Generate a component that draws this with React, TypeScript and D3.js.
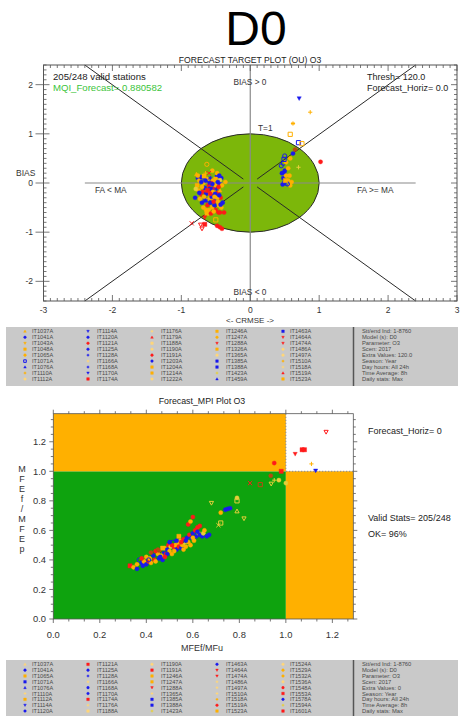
import React from 'react';
import * as d3 from 'd3';

const W = 460;
const H = 716;
const FONT = "'Liberation Sans', Arial, sans-serif";

const PAL: Record<string, string> = {
  O: '#ffb000',
  B: '#1a1aee',
  R: '#ff1a1a',
  Y: '#e6cf3a',
  L: '#ffd67a',
  D: '#b84a10',
};

type Pt = [number, number, string, string];
type Leg = [string, string, string];

// ---------- Target plot ----------
const targetTitle = 'FORECAST TARGET PLOT (OU)    O3';
const targetXTicks = [-3, -2, -1, 0, 1, 2, 3];
const targetYTicks = [-2, -1, 0, 1, 2];
const targetInfoLeft = ['205/248 valid stations', 'MQI_Forecast= 0.880582'];
const targetInfoRight = ['Thresh= 120.0', 'Forecast_Horiz= 0.0'];

const targetPoints: Pt[] = [
  [-0.78, 0.18, 'O', 'tri'], [-0.76, 0.1, 'B', 'circ'], [-0.74, 0.05, 'O', 'circ'],
  [-0.77, -0.05, 'O', 'sq'], [-0.8, -0.3, 'B', 'circ'], [-0.75, -0.15, 'O', 'circ'],
  [-0.72, -0.25, 'R', 'dtri'], [-0.7, 0.12, 'B', 'sq'], [-0.68, 0.0, 'O', 'circ'],
  [-0.66, -0.1, 'B', 'circ'], [-0.65, 0.2, 'O', 'plus'], [-0.63, 0.38, 'O', 'ocirc'],
  [-0.62, 0.08, 'O', 'circ'], [-0.6, -0.05, 'R', 'circ'], [-0.6, -0.2, 'O', 'circ'],
  [-0.58, 0.1, 'B', 'star'], [-0.57, -0.3, 'O', 'sq'], [-0.56, -0.15, 'R', 'circ'],
  [-0.55, -0.12, 'B', 'circ'], [-0.54, 0.05, 'O', 'circ'], [-0.53, -0.25, 'B', 'dtri'],
  [-0.52, -0.1, 'R', 'star'], [-0.5, -0.05, 'O', 'circ'], [-0.5, -0.35, 'B', 'circ'],
  [-0.48, 0.12, 'B', 'sq'], [-0.47, -0.2, 'R', 'circ'], [-0.46, -0.45, 'O', 'circ'],
  [-0.45, 0.0, 'B', 'circ'], [-0.44, -0.15, 'O', 'tri'], [-0.43, -0.3, 'R', 'circ'],
  [-0.42, 0.1, 'B', 'circ'], [-0.41, -0.05, 'O', 'circ'], [-0.4, -0.4, 'B', 'circ'],
  [-0.55, 0.25, 'O', 'circ'], [-0.6, 0.2, 'R', 'x'], [-0.7, -0.4, 'B', 'circ'],
  [-0.68, -0.5, 'O', 'circ'], [-0.65, -0.35, 'B', 'sq'], [-0.62, -0.45, 'R', 'circ'],
  [-0.6, -0.55, 'O', 'circ'], [-0.58, -0.4, 'B', 'circ'], [-0.55, -0.5, 'O', 'sq'],
  [-0.52, -0.45, 'B', 'circ'], [-0.5, -0.55, 'R', 'circ'], [-0.48, -0.3, 'O', 'circ'],
  [-0.46, -0.6, 'R', 'circ'], [-0.44, -0.6, 'R', 'circ'], [-0.42, -0.5, 'O', 'circ'],
  [-0.63, -0.62, 'O', 'sq'], [-0.66, -0.7, 'R', 'dtri'], [-0.5, -0.75, 'O', 'osq'],
  [-0.72, -0.85, 'R', 'odtri'], [-0.7, -0.93, 'R', 'odtri'], [-0.66, -0.84, 'R', 'sq'],
  [-0.48, -0.87, 'R', 'circ'], [-0.44, -0.9, 'R', 'circ'], [-0.41, -0.93, 'R', 'circ'],
  [-0.85, -0.82, 'R', 'x'], [-0.38, -0.6, 'R', 'circ'], [-0.36, 0.02, 'O', 'circ'],
  [-0.79, -0.12, 'Y', 'circ'], [-0.73, -0.32, 'O', 'circ'], [-0.71, 0.02, 'B', 'circ'],
  [-0.69, -0.18, 'R', 'circ'], [-0.67, 0.14, 'O', 'sq'], [-0.64, -0.22, 'B', 'circ'],
  [-0.61, -0.32, 'O', 'plus'], [-0.59, -0.12, 'B', 'circ'], [-0.57, 0.0, 'R', 'circ'],
  [-0.56, -0.28, 'B', 'circ'], [-0.54, -0.18, 'O', 'circ'], [-0.53, -0.38, 'R', 'circ'],
  [-0.51, -0.22, 'B', 'circ'], [-0.5, 0.08, 'O', 'sq'], [-0.49, -0.12, 'B', 'star'],
  [-0.47, -0.38, 'O', 'circ'], [-0.46, -0.08, 'R', 'circ'], [-0.45, -0.25, 'B', 'circ'],
  [-0.44, 0.06, 'Y', 'circ'], [-0.43, -0.44, 'B', 'circ'], [-0.62, -0.15, 'R', 'sq'],
  [-0.58, -0.22, 'R', 'circ'], [-0.55, -0.02, 'B', 'circ'], [-0.52, -0.28, 'O', 'circ'],
  [-0.65, 0.05, 'B', 'circ'], [-0.7, -0.08, 'O', 'circ'], [-0.74, -0.2, 'B', 'circ'],
  [-0.76, 0.15, 'O', 'circ'], [-0.48, 0.2, 'O', 'circ'], [-0.45, 0.15, 'B', 'circ'],
  [-0.64, -0.55, 'O', 'circ'], [-0.57, -0.62, 'R', 'circ'], [-0.53, -0.58, 'O', 'circ'],
  [-0.67, -0.28, 'O', 'circ'], [-0.6, 0.0, 'B', 'dtri'], [-0.47, 0.02, 'B', 'circ'],
  // right cluster
  [0.5, 0.55, 'B', 'ocirc'], [0.45, 0.35, 'B', 'ocirc'], [0.48, 0.4, 'B', 'ocirc'],
  [0.52, 0.42, 'O', 'circ'], [0.5, 0.25, 'B', 'circ'], [0.5, 0.2, 'B', 'star'],
  [0.48, 0.1, 'B', 'circ'], [0.5, 0.02, 'B', 'ocirc'], [0.53, 0.0, 'B', 'osq'],
  [0.55, 0.05, 'O', 'circ'], [0.58, -0.05, 'O', 'circ'], [0.55, 0.3, 'O', 'circ'],
  [0.58, 0.5, 'O', 'circ'], [0.62, 0.6, 'B', 'circ'], [0.65, 0.68, 'D', 'circ'],
  [0.7, 0.32, 'Y', 'plus'], [0.47, -0.03, 'B', 'circ'], [0.52, 0.15, 'O', 'circ'],
  [0.49, 0.48, 'B', 'osq'], [0.46, 0.2, 'B', 'circ'], [0.54, -0.02, 'B', 'ocirc'],
  [0.51, 0.05, 'O', 'sq'], [0.57, 0.15, 'O', 'circ'], [0.6, 0.02, 'O', 'circ'],
  // outliers
  [0.71, 1.72, 'B', 'dtri'], [0.87, 1.44, 'O', 'plus'], [0.62, 1.21, 'O', 'star'],
  [0.58, 0.99, 'O', 'osq'], [0.7, 0.82, 'B', 'osq'], [0.75, 0.8, 'O', 'osq'],
  [1.02, 0.43, 'R', 'circ'],
];

// ---------- MPI plot ----------
const mpiTitle = 'Forecast_MPI Plot  O3';
const mpiXTicks = [0, 0.2, 0.4, 0.6, 0.8, 1.0, 1.2];
const mpiYTicks = [0, 0.2, 0.4, 0.6, 0.8, 1.0, 1.2];
const mpiYLabel = ['M', 'F', 'E', 'f', '/', 'M', 'F', 'E', 'p'];
const mpiInfo = ['Forecast_Horiz= 0', 'Valid Stats= 205/248', 'OK= 96%'];

const mpiPoints: Pt[] = [
  [0.33, 0.36, 'R', 'sq'], [0.345, 0.35, 'O', 'circ'], [0.36, 0.34, 'B', 'circ'],
  [0.37, 0.4, 'B', 'ocirc'], [0.38, 0.38, 'B', 'circ'], [0.385, 0.36, 'B', 'circ'],
  [0.39, 0.39, 'O', 'circ'], [0.4, 0.37, 'B', 'circ'], [0.41, 0.39, 'R', 'circ'],
  [0.415, 0.41, 'O', 'circ'], [0.42, 0.38, 'O', 'circ'], [0.43, 0.43, 'B', 'circ'],
  [0.435, 0.4, 'R', 'circ'], [0.44, 0.39, 'O', 'circ'], [0.45, 0.44, 'O', 'circ'],
  [0.455, 0.41, 'B', 'circ'], [0.46, 0.46, 'R', 'x'], [0.465, 0.43, 'O', 'circ'],
  [0.47, 0.4, 'B', 'circ'], [0.475, 0.45, 'B', 'star'], [0.48, 0.48, 'O', 'circ'],
  [0.485, 0.44, 'R', 'circ'], [0.49, 0.47, 'B', 'circ'], [0.495, 0.5, 'R', 'circ'],
  [0.5, 0.46, 'O', 'circ'], [0.505, 0.49, 'Y', 'circ'], [0.51, 0.44, 'O', 'circ'],
  [0.515, 0.52, 'B', 'ocirc'], [0.52, 0.48, 'R', 'circ'], [0.525, 0.5, 'O', 'circ'],
  [0.53, 0.47, 'B', 'circ'], [0.535, 0.51, 'O', 'circ'], [0.54, 0.49, 'R', 'circ'],
  [0.545, 0.53, 'O', 'circ'], [0.55, 0.48, 'B', 'circ'], [0.555, 0.5, 'O', 'circ'],
  [0.56, 0.54, 'R', 'circ'], [0.565, 0.51, 'Y', 'plus'], [0.57, 0.49, 'O', 'circ'],
  [0.575, 0.55, 'B', 'circ'], [0.58, 0.52, 'O', 'circ'], [0.585, 0.57, 'R', 'circ'],
  [0.59, 0.5, 'O', 'circ'], [0.595, 0.55, 'B', 'circ'], [0.6, 0.58, 'B', 'circ'],
  [0.605, 0.53, 'O', 'circ'], [0.61, 0.6, 'R', 'circ'], [0.615, 0.56, 'B', 'circ'],
  [0.62, 0.62, 'R', 'circ'], [0.625, 0.58, 'O', 'circ'], [0.63, 0.57, 'B', 'circ'],
  [0.64, 0.56, 'B', 'circ'], [0.645, 0.58, 'Y', 'circ'], [0.65, 0.6, 'O', 'circ'],
  [0.66, 0.56, 'B', 'circ'], [0.67, 0.57, 'B', 'circ'], [0.6, 0.69, 'R', 'circ'],
  [0.58, 0.64, 'R', 'circ'], [0.59, 0.66, 'O', 'circ'], [0.38, 0.41, 'R', 'circ'],
  [0.4, 0.42, 'O', 'circ'], [0.42, 0.45, 'D', 'circ'], [0.44, 0.46, 'R', 'circ'],
  [0.46, 0.42, 'B', 'circ'], [0.47, 0.48, 'O', 'sq'], [0.49, 0.44, 'B', 'circ'],
  [0.51, 0.5, 'R', 'circ'], [0.52, 0.46, 'O', 'circ'], [0.53, 0.53, 'B', 'circ'],
  [0.55, 0.52, 'R', 'circ'], [0.56, 0.47, 'O', 'circ'], [0.57, 0.53, 'B', 'circ'],
  [0.6, 0.55, 'O', 'circ'], [0.62, 0.59, 'B', 'circ'], [0.63, 0.63, 'R', 'circ'],
  [0.54, 0.56, 'O', 'sq'], [0.5, 0.52, 'B', 'circ'], [0.45, 0.47, 'D', 'circ'],
  [0.41, 0.4, 'B', 'ocirc'], [0.36, 0.37, 'O', 'circ'], [0.48, 0.42, 'R', 'circ'],
  // upper part
  [0.68, 0.785, 'Y', 'odtri'], [0.72, 0.72, 'O', 'circ'], [0.72, 0.65, 'Y', 'osq'],
  [0.71, 0.635, 'Y', 'x'], [0.74, 0.74, 'B', 'circ'], [0.75, 0.745, 'B', 'circ'],
  [0.76, 0.75, 'B', 'circ'], [0.79, 0.82, 'Y', 'circ'], [0.79, 0.8, 'Y', 'osq'],
  [0.79, 0.73, 'Y', 'otri'], [0.82, 0.68, 'Y', 'odtri'], [0.846, 0.92, 'R', 'x'],
  [0.89, 0.91, 'D', 'osq'], [0.935, 0.97, 'D', 'circ'], [0.937, 0.915, 'Y', 'odtri'],
  [0.95, 0.94, 'Y', 'plus'], [0.97, 0.94, 'Y', 'circ'], [0.95, 1.056, 'R', 'circ'],
  [0.98, 1.0, 'R', 'sq'], [1.0, 0.92, 'Y', 'circ'], [1.04, 1.117, 'R', 'dtri'],
  [1.07, 1.146, 'R', 'sq'], [1.08, 1.146, 'R', 'sq'], [1.11, 1.05, 'O', 'plus'],
  [1.128, 1.004, 'B', 'dtri'], [1.173, 1.266, 'R', 'odtri'],
];

// ---------- Legends ----------
const legend1Stations: Leg[] = [
  ['IT1037A', 'O', 'tri'], ['IT1041A', 'B', 'circ'], ['IT1043A', 'O', 'dtri'], ['IT1048A', 'O', 'sq'],
  ['IT1065A', 'O', 'circ'], ['IT1071A', 'B', 'osq'], ['IT1076A', 'B', 'tri'], ['IT1110A', 'O', 'plus'],
  ['IT1112A', 'L', 'circ'],
  ['IT1114A', 'B', 'dtri'], ['IT1120A', 'B', 'circ'], ['IT1121A', 'R', 'circ'], ['IT1125A', 'B', 'circ'],
  ['IT1128A', 'B', 'plus'], ['IT1166A', 'L', 'plus'], ['IT1168A', 'B', 'plus'], ['IT1170A', 'B', 'dtri'],
  ['IT1174A', 'R', 'sq'],
  ['IT1176A', 'L', 'plus'], ['IT1179A', 'R', 'tri'], ['IT1188A', 'L', 'sq'], ['IT1190A', 'L', 'circ'],
  ['IT1191A', 'R', 'circ'], ['IT1203A', 'B', 'circ'], ['IT1204A', 'O', 'sq'], ['IT1214A', 'O', 'sq'],
  ['IT1222A', 'L', 'circ'],
  ['IT1246A', 'O', 'sq'], ['IT1247A', 'O', 'circ'], ['IT1288A', 'R', 'dtri'], ['IT1326A', 'O', 'sq'],
  ['IT1365A', 'L', 'circ'], ['IT1385A', 'B', 'sq'], ['IT1388A', 'B', 'sq'], ['IT1423A', 'Y', 'plus'],
  ['IT1459A', 'B', 'tri'],
  ['IT1463A', 'B', 'sq'], ['IT1464A', 'R', 'dtri'], ['IT1474A', 'R', 'dtri'], ['IT1486A', 'L', 'circ'],
  ['IT1497A', 'L', 'circ'], ['IT1510A', 'O', 'plus'], ['IT1518A', 'L', 'plus'], ['IT1519A', 'R', 'tri'],
  ['IT1523A', 'O', 'sq'],
];
const legend1Info = [
  'Stt/end Ind: 1-8760', 'Model (s): D0', 'Parameter: O3', 'Scen: 2017', 'Extra Values: 120.0',
  'Season: Year', 'Day hours: All 24h', 'Time Average: 8h', 'Daily stats: Max',
];

const legend2Stations: Leg[] = [
  ['IT1037A', 'L', 'tri'], ['IT1041A', 'B', 'circ'], ['IT1065A', 'O', 'sq'], ['IT1071A', 'B', 'sq'],
  ['IT1076A', 'B', 'tri'], ['IT1110A', 'L', 'plus'], ['IT1112A', 'O', 'sq'], ['IT1114A', 'B', 'dtri'],
  ['IT1120A', 'B', 'circ'],
  ['IT1121A', 'R', 'sq'], ['IT1125A', 'B', 'circ'], ['IT1128A', 'B', 'plus'], ['IT1166A', 'L', 'plus'],
  ['IT1168A', 'B', 'circ'], ['IT1170A', 'B', 'circ'], ['IT1174A', 'R', 'sq'], ['IT1176A', 'L', 'plus'],
  ['IT1188A', 'L', 'sq'],
  ['IT1190A', 'L', 'circ'], ['IT1191A', 'R', 'sq'], ['IT1246A', 'O', 'sq'], ['IT1247A', 'O', 'sq'],
  ['IT1288A', 'R', 'dtri'], ['IT1365A', 'L', 'plus'], ['IT1385A', 'B', 'sq'], ['IT1388A', 'B', 'sq'],
  ['IT1423A', 'Y', 'plus'],
  ['IT1463A', 'B', 'circ'], ['IT1464A', 'R', 'dtri'], ['IT1474A', 'R', 'dtri'], ['IT1486A', 'L', 'plus'],
  ['IT1497A', 'L', 'plus'], ['IT1510A', 'L', 'plus'], ['IT1518A', 'O', 'plus'], ['IT1519A', 'R', 'circ'],
  ['IT1523A', 'O', 'sq'],
  ['IT1524A', 'L', 'circ'], ['IT1529A', 'O', 'circ'], ['IT1532A', 'O', 'circ'], ['IT1536A', 'L', 'circ'],
  ['IT1548A', 'R', 'circ'], ['IT1553A', 'R', 'sq'], ['IT1578A', 'B', 'circ'], ['IT1594A', 'Y', 'plus'],
  ['IT1601A', 'R', 'sq'],
];
const legend2Info = [
  'Stt/end Ind: 1-8760', 'Model (s): D0', 'Parameter: O3', 'Scen: 2017', 'Extra Values: 0',
  'Season: Year', 'Day hours: All 24h', 'Time Average: 8h', 'Daily stats: Max',
];

// ---------- helpers ----------
function markerPath(sym: string, s: number): string {
  const h = s / 2;
  const base = sym.startsWith('o') ? sym.slice(1) : sym;
  switch (base) {
    case 'circ':
      return `M${h},0A${h},${h} 0 1,1 ${-h},0A${h},${h} 0 1,1 ${h},0Z`;
    case 'tri':
      return `M0,${-h}L${h},${h * 0.8}L${-h},${h * 0.8}Z`;
    case 'dtri':
      return `M0,${h}L${h},${-h * 0.8}L${-h},${-h * 0.8}Z`;
    case 'sq':
      return `M${-h},${-h}H${h}V${h}H${-h}Z`;
    case 'plus':
      return `M${-h},0H${h}M0,${-h}V${h}`;
    case 'x':
      return `M${-h},${-h}L${h},${h}M${-h},${h}L${h},${-h}`;
    case 'star':
      return `M${-h},0H${h}M0,${-h}V${h}M${-h * 0.7},${-h * 0.7}L${h * 0.7},${h * 0.7}M${-h * 0.7},${h * 0.7}L${h * 0.7},${-h * 0.7}`;
    default:
      return `M${h},0A${h},${h} 0 1,1 ${-h},0A${h},${h} 0 1,1 ${h},0Z`;
  }
}

function Marker({ x, y, c, sym, s }: { x: number; y: number; c: string; sym: string; s: number }) {
  const col = PAL[c] || c;
  const isLine = sym === 'plus' || sym === 'x' || sym === 'star';
  const open = sym.startsWith('o');
  return (
    <path
      d={markerPath(sym, s)}
      transform={`translate(${x},${y})`}
      fill={isLine || open ? 'none' : col}
      stroke={col}
      strokeWidth={isLine || open ? 1 : 0.4}
    />
  );
}

function Legend({ y0, y1, stations, info, rowY0, rowStep }: {
  y0: number; y1: number; stations: Leg[]; info: string[]; rowY0: number; rowStep: number;
}) {
  const markX = [25, 88, 152, 217, 283];
  const textX = [32, 97, 161, 226, 290];
  return (
    <g>
      <rect x={6} y={y0} width={452} height={y1 - y0} fill="#c9c9c9" />
      <line x1={353.5} x2={353.5} y1={y0} y2={y1} stroke="#555" strokeWidth={1.5} />
      {stations.map((d, i) => {
        const col = Math.floor(i / 9);
        const row = i % 9;
        const y = rowY0 + row * rowStep;
        return (
          <g key={d[0] + i}>
            <Marker x={markX[col]} y={y} c={d[1]} sym={d[2]} s={2.6} />
            <text x={textX[col]} y={y + 2} fontSize={5.6} fill="#4a4a4a" fontFamily={FONT}>{d[0]}</text>
          </g>
        );
      })}
      {info.map((t, i) => (
        <text key={t} x={362} y={rowY0 + i * rowStep + 2} fontSize={5.8} fill="#4a4a4a" fontFamily={FONT}>{t}</text>
      ))}
    </g>
  );
}

export default function App() {
  // Target plot scales
  const xT = d3.scaleLinear().domain([-3, 3]).range([43.5, 457]);
  const yT = d3.scaleLinear().domain([-2.4, 2.4]).range([301, 65]);
  const tL = 43.5, tR = 457, tTop = 65, tBot = 301;
  const xMinorT = d3.range(-30, 31).map((v) => v / 10);
  const yMinorT = d3.range(-24, 25).map((v) => v / 10);
  const diag: [number, number, number, number][] = [
    [-2.4, 2.4, -0.1, 0.08], [2.4, 2.4, 0.1, 0.08], [-2.4, -2.4, -0.1, -0.08], [2.4, -2.4, 0.1, -0.08],
  ];

  // MPI plot scales
  const xM = d3.scaleLinear().domain([0, 1.29]).range([53.3, 353.3]);
  const yM = d3.scaleLinear().domain([0, 1.39]).range([619, 413.7]);
  const mL = xM(0), mR = xM(1.29), mTop = yM(1.39), mBot = yM(0);
  const xMinorM = d3.range(0, 20).map((v) => v / 15).filter((v) => v <= 1.29);
  const yMinorM = d3.range(0, 28).map((v) => v / 20).filter((v) => v <= 1.39);

  const fmt = d3.format('.1f');

  return (
    <svg width={W} height={H} style={{ position: 'absolute', left: 0, top: 0, background: '#fff' }} fontFamily={FONT}>
      <rect x={0} y={0} width={W} height={H} fill="#fff" />
      <text x={256} y={45} fontSize={48} textAnchor="middle" fill="#000">D0</text>

      {/* ===== Target plot ===== */}
      <text x={250} y={63} fontSize={8.6} textAnchor="middle" fill="#222">{targetTitle}</text>
      <ellipse cx={xT(0)} cy={yT(0)} rx={xT(1) - xT(0)} ry={yT(0) - yT(1)} fill="#7cb70a" stroke="#2a2a2a" strokeWidth={1} />
      <line x1={xT(-2.4)} x2={xT(2.4)} y1={yT(0)} y2={yT(0)} stroke="#8a8a8a" strokeWidth={1.2} />
      <line x1={xT(0)} x2={xT(0)} y1={tTop} y2={tBot} stroke="#8a8a8a" strokeWidth={1.2} />
      {diag.map((d, i) => (
        <line key={i} x1={xT(d[0])} y1={yT(d[1])} x2={xT(d[2])} y2={yT(d[3])} stroke="#2a2a2a" strokeWidth={1} />
      ))}
      {targetPoints.map((p, i) => (
        <Marker key={i} x={xT(p[0])} y={yT(p[1])} c={p[2]} sym={p[3]} s={4.2} />
      ))}
      <rect x={tL} y={tTop} width={tR - tL} height={tBot - tTop} fill="none" stroke="#555" strokeWidth={1} />
      {xMinorT.map((v, i) => {
        const major = Math.abs(v - Math.round(v)) < 1e-6;
        const len = major ? 6 : 3;
        return (
          <g key={'xt' + i}>
            <line x1={xT(v)} x2={xT(v)} y1={tBot} y2={tBot - len} stroke="#555" strokeWidth={0.8} />
            <line x1={xT(v)} x2={xT(v)} y1={tTop} y2={tTop + len} stroke="#555" strokeWidth={0.8} />
          </g>
        );
      })}
      {yMinorT.map((v, i) => {
        const major = Math.abs(v - Math.round(v)) < 1e-6;
        const len = major ? 6 : 3;
        return (
          <g key={'yt' + i}>
            <line x1={tL} x2={tL + len} y1={yT(v)} y2={yT(v)} stroke="#555" strokeWidth={0.8} />
            <line x1={tR} x2={tR - len} y1={yT(v)} y2={yT(v)} stroke="#555" strokeWidth={0.8} />
          </g>
        );
      })}
      {targetYTicks.map((v) => (
        <g key={'ytl' + v}>
          <line x1={tL - 8} x2={tL} y1={yT(v)} y2={yT(v)} stroke="#555" strokeWidth={0.8} />
          <text x={33} y={yT(v) + 3} fontSize={8.5} textAnchor="end" fill="#333">{v}</text>
        </g>
      ))}
      {targetXTicks.map((v) => (
        <text key={'xtl' + v} x={xT(v)} y={312.5} fontSize={8.5} textAnchor="middle" fill="#333">{v}</text>
      ))}
      <text x={250} y={323} fontSize={8} textAnchor="middle" fill="#333">{'<- CRMSE ->'}</text>
      <text x={16} y={176} fontSize={8.5} fill="#333">BIAS</text>
      <text x={250} y={85} fontSize={8.3} textAnchor="middle" fill="#333">BIAS &gt; 0</text>
      <text x={250} y={295} fontSize={8.3} textAnchor="middle" fill="#333">BIAS &lt; 0</text>
      <text x={95} y={193} fontSize={8.3} fill="#333">FA &lt; MA</text>
      <text x={357} y={193} fontSize={8.3} fill="#333">FA &gt;= MA</text>
      <text x={258} y={131} fontSize={8.3} fill="#333">T=1</text>
      <text x={53} y={80} fontSize={9.6} fill="#222">{targetInfoLeft[0]}</text>
      <text x={53} y={91} fontSize={9.6} fill="#3bc43b">{targetInfoLeft[1]}</text>
      <text x={367} y={80} fontSize={9} fill="#222">{targetInfoRight[0]}</text>
      <text x={367} y={91} fontSize={9} fill="#222">{targetInfoRight[1]}</text>

      <Legend y0={327} y1={386} stations={legend1Stations} info={legend1Info} rowY0={331.3} rowStep={5.96} />

      {/* ===== MPI plot ===== */}
      <text x={202} y={404} fontSize={8.8} textAnchor="middle" fill="#222">{mpiTitle}</text>
      <rect x={mL} y={yM(1)} width={xM(1) - mL} height={mBot - yM(1)} fill="#0ea30e" />
      <rect x={mL} y={mTop} width={xM(1) - mL} height={yM(1) - mTop} fill="#ffb000" />
      <rect x={xM(1)} y={yM(1)} width={mR - xM(1)} height={mBot - yM(1)} fill="#ffb000" />
      <line x1={xM(1)} x2={mR} y1={yM(1)} y2={yM(1)} stroke="#888" strokeWidth={1} strokeDasharray="1.5,1.5" />
      <line x1={xM(1)} x2={xM(1)} y1={mTop} y2={yM(1)} stroke="#888" strokeWidth={1} strokeDasharray="1.5,1.5" />
      {mpiPoints.map((p, i) => (
        <Marker key={i} x={xM(p[0])} y={yM(p[1])} c={p[2]} sym={p[3]} s={4.2} />
      ))}
      <rect x={mL} y={mTop} width={mR - mL} height={mBot - mTop} fill="none" stroke="#555" strokeWidth={0.8} />
      {xMinorM.map((v, i) => {
        const major = i % 3 === 0;
        const len = major ? 4 : 2.5;
        return (
          <g key={'xm' + i}>
            <line x1={xM(v)} x2={xM(v)} y1={mBot} y2={mBot + len} stroke="#555" strokeWidth={0.8} />
            <line x1={xM(v)} x2={xM(v)} y1={mTop} y2={mTop - len} stroke="#555" strokeWidth={0.8} />
          </g>
        );
      })}
      {yMinorM.map((v, i) => {
        const major = i % 4 === 0;
        const len = major ? 4 : 2.5;
        return (
          <g key={'ym' + i}>
            <line x1={mL} x2={mL - len} y1={yM(v)} y2={yM(v)} stroke="#555" strokeWidth={0.8} />
            <line x1={mR} x2={mR + len} y1={yM(v)} y2={yM(v)} stroke="#555" strokeWidth={0.8} />
          </g>
        );
      })}
      {mpiYTicks.map((v) => (
        <text key={'myl' + v} x={46} y={yM(v) + 3.3} fontSize={9.4} textAnchor="end" fill="#333">{fmt(v)}</text>
      ))}
      {mpiXTicks.map((v) => (
        <text key={'mxl' + v} x={xM(v)} y={638} fontSize={9.4} textAnchor="middle" fill="#333">{fmt(v)}</text>
      ))}
      <text x={202} y={651} fontSize={9} textAnchor="middle" fill="#333">MFEf/MFu</text>
      {mpiYLabel.map((ch, i) => (
        <text key={'yl' + i} x={22} y={472 + i * 10} fontSize={9} textAnchor="middle" fill="#333">{ch}</text>
      ))}
      <text x={368} y={434} fontSize={9} fill="#222">{mpiInfo[0]}</text>
      <text x={368} y={521} fontSize={9} fill="#222">{mpiInfo[1]}</text>
      <text x={368} y={537} fontSize={9} fill="#222">{mpiInfo[2]}</text>

      <Legend y0={660} y1={716} stations={legend2Stations} info={legend2Info} rowY0={664.3} rowStep={5.84} />
    </svg>
  );
}
